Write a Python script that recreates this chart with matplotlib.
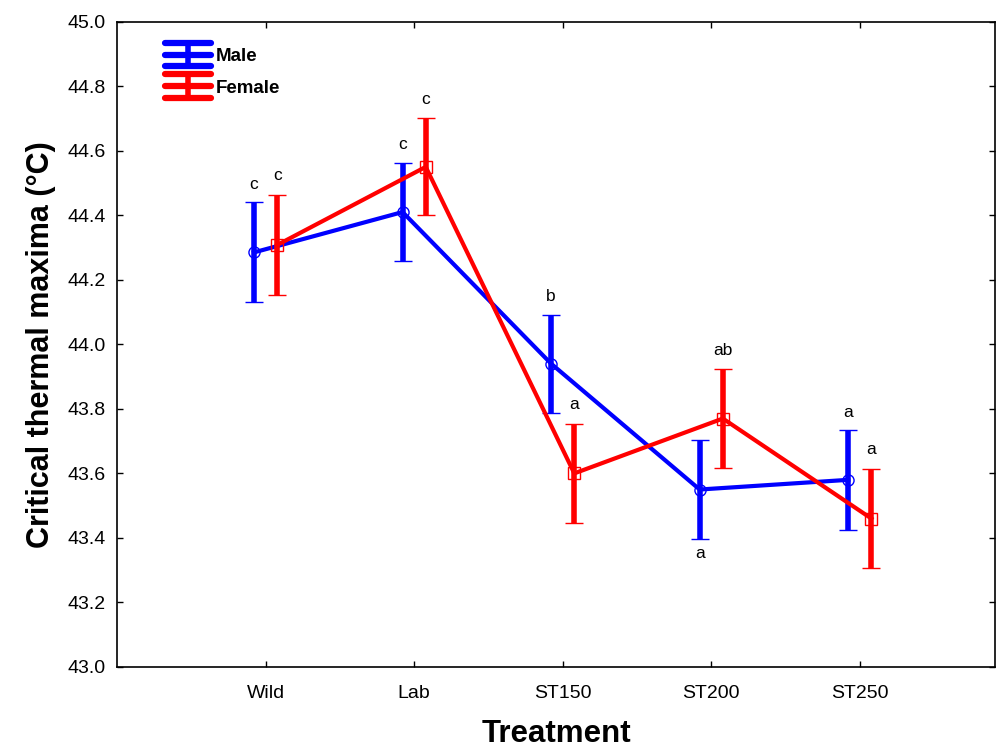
import matplotlib
matplotlib.use("Agg")
import matplotlib.pyplot as plt
from matplotlib.lines import Line2D
from matplotlib.legend_handler import HandlerBase
import numpy as np

plt.rcParams['font.family'] = ['Liberation Sans', 'DejaVu Sans']

categories = ["Wild", "Lab", "ST150", "ST200", "ST250"]
male_mean = [44.285, 44.41, 43.94, 43.55, 43.58]
male_err = [0.155, 0.153, 0.152, 0.152, 0.155]
female_mean = [44.308, 44.55, 43.60, 43.77, 43.46]
female_err = [0.155, 0.15, 0.153, 0.152, 0.153]
male_letters = ["c", "c", "b", "a", "a"]
female_letters = ["c", "c", "a", "ab", "a"]
# letter placement: True = above the bar, False = below
male_above = [True, True, True, False, True]


class HandlerEB(HandlerBase):
    def create_artists(self, legend, orig_handle, xdescent, ydescent, width,
                       height, fontsize, trans):
        c = orig_handle.get_color()
        yc = height / 2 - ydescent
        d = fontsize * 0.62
        x0, x1 = -xdescent, -xdescent + width
        arts = []
        for yy in (yc - d, yc, yc + d):
            arts.append(Line2D([x0, x1], [yy, yy], color=c, lw=4.5,
                               solid_capstyle='round', transform=trans))
        xm = (x0 + x1) / 2
        arts.append(Line2D([xm, xm], [yc - d, yc + d], color=c, lw=4,
                           transform=trans))
        return arts


fig = plt.figure(figsize=(9.97, 7.51), dpi=100)
ax = fig.add_axes([0.1174, 0.1119, 0.8806, 0.8592])

x = np.arange(len(categories))
off = 0.078
xm = x - off
xf = x + off

blue = "#0000ff"
red = "#ff0000"

ax.errorbar(xm, male_mean, yerr=male_err, color=blue, lw=3, elinewidth=4,
            capsize=6.5, capthick=4.5, marker='o', ms=8, mfc='none', mec=blue,
            mew=1, zorder=3)
ax.errorbar(xf, female_mean, yerr=female_err, color=red, lw=3, elinewidth=4,
            capsize=6.5, capthick=4.5, marker='s', ms=8, mfc='none', mec=red,
            mew=1, zorder=4)

for xi, m, e, lab, ab in zip(xm, male_mean, male_err, male_letters, male_above):
    if ab:
        ax.text(xi, m + e + 0.055, lab, ha='center', va='center', fontsize=12.5)
    else:
        ax.text(xi, m - e - 0.045, lab, ha='center', va='center', fontsize=12.5)
for xi, m, e, lab in zip(xf, female_mean, female_err, female_letters):
    ax.text(xi, m + e + 0.06, lab, ha='center', va='center', fontsize=12.5)

ax.set_xlim(-1.0, 4.91)
ax.set_ylim(43.0, 45.0)
ax.set_xticks(x)
ax.set_xticklabels(categories)
ax.set_yticks(np.arange(43.0, 45.01, 0.2))
ax.set_yticklabels([f"{v:.1f}" for v in np.arange(43.0, 45.01, 0.2)])
ax.tick_params(direction='in', top=True, right=True, length=4, width=1,
               labelsize=14, pad=8)
ax.tick_params(axis='x', pad=13)
for s in ax.spines.values():
    s.set_linewidth(1.2)

ax.set_xlabel("Treatment", fontsize=22.5, fontweight='bold', labelpad=12)
ax.set_ylabel("Critical thermal maxima (°C)", fontsize=22, fontweight='bold',
              labelpad=8)

h_m = Line2D([], [], color=blue)
h_f = Line2D([], [], color=red)
leg = ax.legend([h_m, h_f], ["Male", "Female"], loc='upper left',
                bbox_to_anchor=(0.035, 0.985), frameon=False,
                handler_map={Line2D: HandlerEB()},
                prop={'weight': 'bold', 'size': 13.5},
                handlelength=2.45, handletextpad=0.25, labelspacing=0.75)

fig.savefig("out.png", dpi=100)
